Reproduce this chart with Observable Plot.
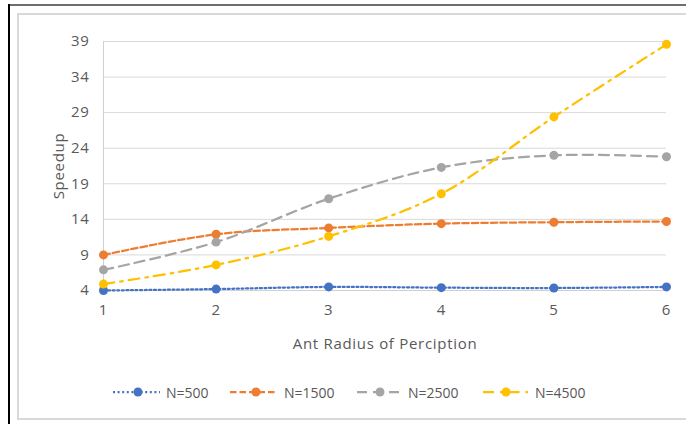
<!DOCTYPE html>
<html>
<head>
<meta charset="utf-8">
<script src="https://cdn.jsdelivr.net/npm/d3@7"></script>
<script src="https://cdn.jsdelivr.net/npm/@observablehq/plot@0.6"></script>
<style>
  html, body { margin: 0; padding: 0; background: #fff; }
  #wrap { position: relative; width: 686px; height: 424px; overflow: hidden; font-family: "Open Sans", sans-serif; }
  #outerTop { position: absolute; left: 9px; top: 4px; width: 700px; height: 2px; background: #6e6e6e; }
  #outerLeft { position: absolute; left: 8px; top: 4px; width: 2px; height: 430px; background: #000; }
  #inner { position: absolute; left: 17px; top: 13px; width: 700px; height: 403px; border: 1px solid #d9d9d9; border-width: 2px 0 2px 2px; }
  #chart { position: absolute; left: 0; top: 0; }
  #chart svg [aria-label$="label"] text, #chart svg g[aria-label="x-axis label"], #chart svg g[aria-label="y-axis label"] { font-size: 15px; letter-spacing: 0.7px; }
  #legend { position: absolute; left: 0; top: 382px; width: 686px; height: 20px; }
  #legend .item { position: absolute; top: 0; height: 20px; display: flex; align-items: center; font-size: 14px; color: #595959; }
</style>
</head>
<body>
<div id="wrap">
  <div id="outerTop"></div>
  <div id="outerLeft"></div>
  <div id="inner"></div>
  <div id="chart"></div>
  <div id="legend"></div>
</div>
<script>
const radius = [1, 2, 3, 4, 5, 6];
const seriesNames = ["N=500", "N=1500", "N=2500", "N=4500"];
const n500  = [4.0, 4.2, 4.5, 4.4, 4.35, 4.5];
const n1500 = [9.0, 11.9, 12.8, 13.4, 13.6, 13.7];
const n2500 = [6.9, 10.8, 16.9, 21.3, 23.0, 22.8];
const n4500 = [4.9, 7.6, 11.6, 17.6, 28.4, 38.6];
const yTicks = [4, 9, 14, 19, 24, 29, 34, 39];
const xTicks = [1, 2, 3, 4, 5, 6];
const colors = ["#4472C4", "#ED7D31", "#A5A5A5", "#FFC000"];
const dashes = ["2,2.6", "6.5,3", "10,6", "11,6,2.5,6"];

const values = [n500, n1500, n2500, n4500];
const data = seriesNames.flatMap((s, i) => radius.map((r, j) => ({series: s, r, v: values[i][j]})));

const marks = [
  Plot.gridY(yTicks, {stroke: "#d9d9d9", strokeOpacity: 1, strokeWidth: 1}),
  Plot.ruleX([1], {stroke: "#d0d0d0", strokeWidth: 1}),
  Plot.ruleY([4], {stroke: "#d0d0d0", strokeWidth: 1})
];
seriesNames.forEach((s, i) => {
  const d = data.filter(e => e.series === s);
  marks.push(Plot.line(d, {x: "r", y: "v", stroke: colors[i], strokeWidth: 2.25, strokeDasharray: dashes[i], curve: "catmull-rom"}));
});
seriesNames.forEach((s, i) => {
  const d = data.filter(e => e.series === s);
  marks.push(Plot.dot(d, {x: "r", y: "v", fill: colors[i], r: 4.5}));
});

const chart = Plot.plot({
  width: 686,
  height: 360,
  marginLeft: 103,
  marginRight: 20,
  marginTop: 41,
  marginBottom: 70,
  style: {fontFamily: "Open Sans, sans-serif", fontSize: "13px", color: "#595959", background: "transparent", overflow: "visible"},
  x: {domain: [1, 6], ticks: xTicks, tickSize: 0, tickPadding: 14, tickFormat: d => String(d), label: "Ant Radius of Perciption", labelAnchor: "center", labelArrow: "none", labelOffset: 58},
  y: {domain: [4, 39], ticks: yTicks, tickSize: 0, tickPadding: 14, label: "Speedup", labelAnchor: "center", labelArrow: "none", labelOffset: 50},
  marks
});
document.getElementById("chart").appendChild(chart);

// legend
const legend = document.getElementById("legend");
const swatchX = [113, 230, 357, 483];
const markerX = [138, 256, 380, 506];
const legendTextX = [166, 284, 408, 535];
seriesNames.forEach((s, i) => {
  const item = document.createElement("div");
  item.className = "item";
  item.style.left = swatchX[i] + "px";
  const svgNS = "http://www.w3.org/2000/svg";
  const sw = document.createElementNS(svgNS, "svg");
  const w = legendTextX[i] - swatchX[i];
  sw.setAttribute("width", w);
  sw.setAttribute("height", 20);
  const ln = document.createElementNS(svgNS, "line");
  ln.setAttribute("x1", 0); ln.setAttribute("x2", 47);
  ln.setAttribute("y1", 10); ln.setAttribute("y2", 10);
  ln.setAttribute("stroke", colors[i]);
  ln.setAttribute("stroke-width", 2.25);
  ln.setAttribute("stroke-dasharray", dashes[i]);
  sw.appendChild(ln);
  const c = document.createElementNS(svgNS, "circle");
  c.setAttribute("cx", markerX[i] - swatchX[i]); c.setAttribute("cy", 10); c.setAttribute("r", 4.5);
  c.setAttribute("fill", colors[i]);
  sw.appendChild(c);
  item.appendChild(sw);
  const t = document.createElement("span");
  t.textContent = s;
  item.appendChild(t);
  legend.appendChild(item);
});
</script>
</body>
</html>
